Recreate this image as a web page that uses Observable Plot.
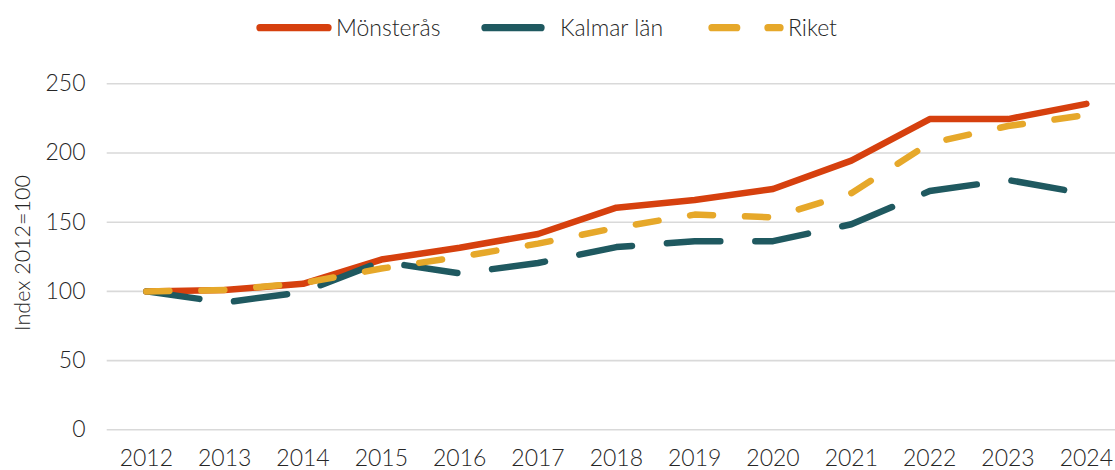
<!DOCTYPE html>
<html>
<head>
<meta charset="utf-8">
<script src="https://cdn.jsdelivr.net/npm/d3@7"></script>
<script src="https://cdn.jsdelivr.net/npm/@observablehq/plot@0.6"></script>
<style>
  html, body { margin: 0; padding: 0; background: #fff; }
  body { width: 1115px; height: 470px; position: relative; overflow: hidden;
         font-family: Lato, "Open Sans", "DejaVu Sans", sans-serif; font-weight: 300; color: #262626; }
  #legend { position: relative; height: 55px; width: 1115px; }
  .lg-text { position: absolute; top: 14px; font-size: 23px; line-height: 27px; white-space: nowrap; }
  #chart svg { display: block; }
  #ylabel { position: absolute; left: 22px; top: 253px; font-size: 21.5px; white-space: nowrap;
            transform: translate(-50%, -50%) rotate(-90deg); color: #262626; }
</style>
</head>
<body>
<div id="legend"></div>
<div id="chart"></div>
<div id="ylabel"></div>
<script>
// ---- data ----
const years = [2012, 2013, 2014, 2015, 2016, 2017, 2018, 2019, 2020, 2021, 2022, 2023, 2024];
const monsteras = [100, 101, 105.5, 123, 131.5, 141.5, 160.5, 166, 174, 194.5, 224.5, 224.5, 235.5];
const kalmarLan = [100, 92, 99.5, 121.5, 113, 120.5, 132, 136.3, 136.3, 148.5, 172.5, 180.5, 170.5];
const riket     = [100, 101, 106, 116.5, 125, 134.5, 146, 155.5, 153.5, 171, 207, 219.5, 227.5];
const seriesNames = ["Mönsterås", "Kalmar län", "Riket"];
const seriesColors = ["#d6400e", "#1f5960", "#e6a82a"];
const seriesDash = [null, "53.5,35", "23,32"];
const yTicks = [0, 50, 100, 150, 200, 250];
const yLabel = "Index 2012=100";

const seriesValues = [monsteras, kalmarLan, riket];
const rows = [];
seriesNames.forEach((name, i) => {
  years.forEach((yr, j) => rows.push({ series: name, year: yr, value: seriesValues[i][j] }));
});

// ---- legend (HTML) ----
const legendPos = [
  { x0: 260, x1: 328, tx: 336 },
  { x0: 485, x1: 553, tx: 560 },
  { x0: 712, x1: 780, tx: 788 }
];
const legend = document.getElementById("legend");
const sw = document.createElementNS("http://www.w3.org/2000/svg", "svg");
sw.setAttribute("width", 1115);
sw.setAttribute("height", 55);
sw.style.position = "absolute"; sw.style.left = "0"; sw.style.top = "0";
legend.appendChild(sw);
seriesNames.forEach((name, i) => {
  const p = legendPos[i];
  const ln = document.createElementNS("http://www.w3.org/2000/svg", "line");
  ln.setAttribute("x1", p.x0); ln.setAttribute("x2", p.x1);
  ln.setAttribute("y1", 27.7); ln.setAttribute("y2", 27.7);
  ln.setAttribute("stroke", seriesColors[i]);
  ln.setAttribute("stroke-width", 7.3);
  ln.setAttribute("stroke-linecap", "round");
  if (seriesDash[i]) ln.setAttribute("stroke-dasharray", i === 2 ? "24.7,31.3" : "56,40");
  sw.appendChild(ln);
  const t = document.createElement("div");
  t.className = "lg-text";
  t.style.left = p.tx + "px";
  t.textContent = name;
  legend.appendChild(t);
});

document.getElementById("ylabel").textContent = yLabel;

// ---- chart ----
const fontFamily = 'Lato, "Open Sans", "DejaVu Sans", sans-serif';
const chart = Plot.plot({
  width: 1115,
  height: 415,
  marginLeft: 106.7,
  marginRight: 0,
  marginTop: 28.3,
  marginBottom: 40.7,
  style: { fontFamily, fontSize: "23px", fontWeight: 300, color: "#262626", background: "#fff", overflow: "visible" },
  x: { type: "linear", domain: [2011.5, 2024.372], ticks: years, tickFormat: d => String(d),
       tickSize: 0, tickPadding: 20, label: null },
  y: { domain: [0, 250], ticks: yTicks, tickSize: 0, tickPadding: 21.7, label: null },
  marks: [
    Plot.ruleY(yTicks, { stroke: "#d9d9d9", strokeWidth: 1.6 }),
    ...seriesNames.map((name, i) =>
      Plot.line(rows.filter(d => d.series === name), {
        x: "year", y: "value",
        stroke: seriesColors[i], strokeWidth: 6.5,
        strokeLinecap: "round", strokeLinejoin: "round",
        strokeDasharray: seriesDash[i] || undefined
      })
    )
  ]
});
document.getElementById("chart").appendChild(chart);
</script>
</body>
</html>
